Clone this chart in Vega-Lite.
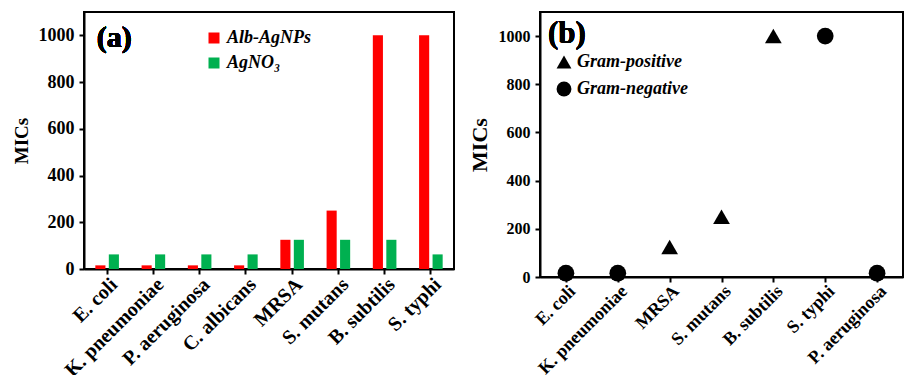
{
  "$schema": "https://vega.github.io/schema/vega-lite/v6.json",
  "autosize": {"type": "pad"},
  "padding": {"left": 11, "top": 11, "right": 0, "bottom": 0},
  "background": "white",
  "spacing": 12,
  "config": {
    "view": {"stroke": "black", "strokeWidth": 2},
    "font": "Liberation Serif",
    "axis": {
      "grid": false,
      "domainColor": "black",
      "domainWidth": 2,
      "tickColor": "black",
      "tickWidth": 2,
      "tickSize": 5,
      "labelFont": "Liberation Serif",
      "labelFontWeight": "bold",
      "labelColor": "black",
      "titleFont": "Liberation Serif",
      "titleFontWeight": "bold",
      "titleColor": "black"
    },
    "legend": {
      "labelFont": "Liberation Serif",
      "labelFontWeight": "bold",
      "labelFontStyle": "italic",
      "labelColor": "black",
      "padding": 0
    }
  },
  "resolve": {"scale": {"color": "independent", "shape": "independent"}},
  "hconcat": [
    {
      "width": 370,
      "height": 257,
      "view": {"stroke": "black", "strokeWidth": 2},
      "data": {
        "values": [
          {"organism": "E. coli", "agent": "Alb-AgNPs", "mic": 15.6},
          {"organism": "E. coli", "agent": "AgNO₃", "mic": 62.5},
          {"organism": "K. pneumoniae", "agent": "Alb-AgNPs", "mic": 15.6},
          {"organism": "K. pneumoniae", "agent": "AgNO₃", "mic": 62.5},
          {"organism": "P. aeruginosa", "agent": "Alb-AgNPs", "mic": 15.6},
          {"organism": "P. aeruginosa", "agent": "AgNO₃", "mic": 62.5},
          {"organism": "C. albicans", "agent": "Alb-AgNPs", "mic": 15.6},
          {"organism": "C. albicans", "agent": "AgNO₃", "mic": 62.5},
          {"organism": "MRSA", "agent": "Alb-AgNPs", "mic": 125},
          {"organism": "MRSA", "agent": "AgNO₃", "mic": 125},
          {"organism": "S. mutans", "agent": "Alb-AgNPs", "mic": 250},
          {"organism": "S. mutans", "agent": "AgNO₃", "mic": 125},
          {"organism": "B. subtilis", "agent": "Alb-AgNPs", "mic": 1000},
          {"organism": "B. subtilis", "agent": "AgNO₃", "mic": 125},
          {"organism": "S. typhi", "agent": "Alb-AgNPs", "mic": 1000},
          {"organism": "S. typhi", "agent": "AgNO₃", "mic": 62.5}
        ]
      },
      "layer": [
        {
          "mark": {"type": "bar"},
          "encoding": {
            "x": {
              "field": "organism",
              "type": "nominal",
              "sort": ["E. coli", "K. pneumoniae", "P. aeruginosa", "C. albicans", "MRSA", "S. mutans", "B. subtilis", "S. typhi"],
              "scale": {"paddingInner": 0.49, "paddingOuter": 0.245},
              "axis": {"title": null, "labelAngle": -45, "labelFontSize": 20, "labelPadding": 0}
            },
            "xOffset": {
              "field": "agent",
              "type": "nominal",
              "sort": ["Alb-AgNPs", "AgNO₃"],
              "scale": {"paddingInner": 0.25, "paddingOuter": 0}
            },
            "y": {
              "field": "mic",
              "type": "quantitative",
              "scale": {"domain": [0, 1100], "nice": false},
              "axis": {"values": [0, 200, 400, 600, 800, 1000], "format": "d", "title": "MICs", "titleFontSize": 19, "labelFontSize": 18, "labelPadding": 5, "titlePadding": 7}
            },
            "color": {
              "field": "agent",
              "type": "nominal",
              "scale": {"domain": ["Alb-AgNPs", "AgNO₃"], "range": ["#FF0000", "#00B050"]},
              "legend": {"title": null, "orient": "none", "legendX": 121, "legendY": 17, "symbolType": "square", "symbolSize": 121, "symbolOpacity": 1, "labelFontSize": 18, "rowPadding": 7}
            }
          }
        },
        {
          "mark": {"type": "text", "text": "(a)", "fontSize": 30, "fontWeight": "bold", "font": "Liberation Serif", "color": "black", "align": "center", "baseline": "middle", "dx": 7},
          "encoding": {
            "x": {"datum": "E. coli"},
            "y": {"datum": 990}
          }
        }
      ]
    },
    {
      "width": 363,
      "height": 265,
      "view": {"stroke": "black", "strokeWidth": 2},
      "data": {
        "values": [
          {"organism": "E. coli", "type": "Gram-negative", "mic": 15.6},
          {"organism": "K. pneumoniae", "type": "Gram-negative", "mic": 15.6},
          {"organism": "MRSA", "type": "Gram-positive", "mic": 125},
          {"organism": "S. mutans", "type": "Gram-positive", "mic": 250},
          {"organism": "B. subtilis", "type": "Gram-positive", "mic": 1000},
          {"organism": "S. typhi", "type": "Gram-negative", "mic": 1000},
          {"organism": "P. aeruginosa", "type": "Gram-negative", "mic": 15.6}
        ]
      },
      "layer": [
        {
          "mark": {"type": "point", "filled": true, "opacity": 1, "color": "black", "size": 280},
          "encoding": {
            "x": {
              "field": "organism",
              "type": "nominal",
              "sort": ["E. coli", "K. pneumoniae", "MRSA", "S. mutans", "B. subtilis", "S. typhi", "P. aeruginosa"],
              "axis": {"title": null, "labelAngle": -45, "labelFontSize": 18, "labelPadding": 0}
            },
            "y": {
              "field": "mic",
              "type": "quantitative",
              "scale": {"domain": [0, 1100], "nice": false},
              "axis": {"values": [0, 200, 400, 600, 800, 1000], "format": "d", "title": "MICs", "titleFontSize": 22, "labelFontSize": 16, "labelPadding": 5, "titlePadding": 7}
            },
            "shape": {
              "field": "type",
              "type": "nominal",
              "scale": {"domain": ["Gram-positive", "Gram-negative"], "range": ["triangle-up", "circle"]},
              "legend": {"title": null, "orient": "none", "legendX": 15, "legendY": 41, "symbolSize": 220, "symbolFillColor": "black", "symbolStrokeColor": "black", "symbolOpacity": 1, "labelFontSize": 18, "rowPadding": 6}
            }
          }
        },
        {
          "mark": {"type": "text", "text": "(b)", "fontSize": 31, "fontWeight": "bold", "font": "Liberation Serif", "color": "black", "align": "center", "baseline": "middle", "dx": 1, "dy": -2},
          "encoding": {
            "x": {"datum": "E. coli"},
            "y": {"datum": 1000}
          }
        }
      ]
    }
  ]
}
